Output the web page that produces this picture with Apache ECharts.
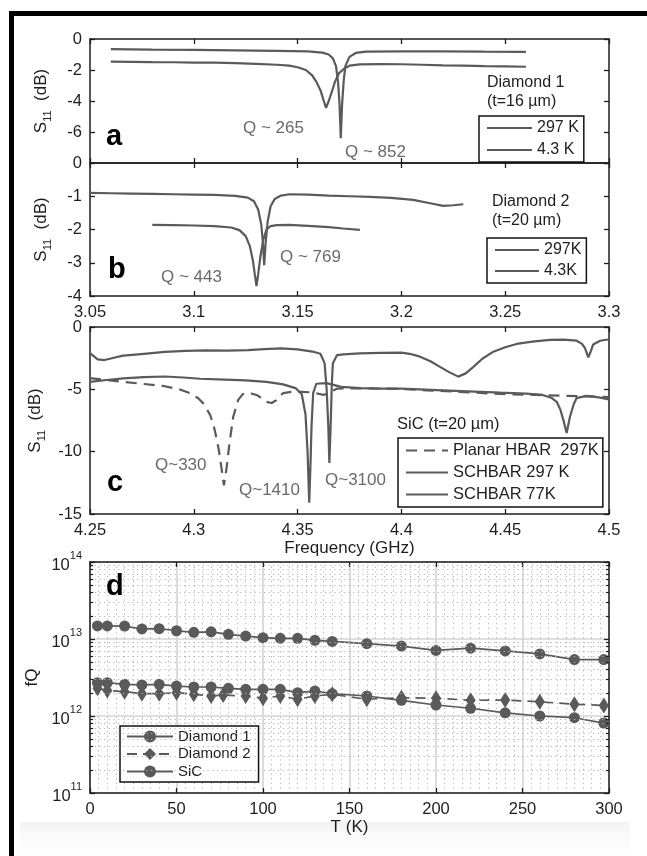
<!DOCTYPE html>
<html><head><meta charset="utf-8">
<script src="https://cdn.jsdelivr.net/npm/echarts@6/dist/echarts.min.js"></script>
<style>html,body{margin:0;padding:0;background:#fff}#c{width:647px;height:856px}</style>
</head><body><div id="c"></div>
<script>
// ---------- panel a : Diamond 1 (t=16 um) ----------
const a297K = [[3.060,-1.46],[3.070,-1.47],[3.080,-1.49],[3.090,-1.50],[3.100,-1.52],[3.110,-1.53],[3.120,-1.56],[3.130,-1.60],[3.140,-1.66],[3.146,-1.72],[3.150,-1.82],[3.154,-2.00],[3.157,-2.35],[3.159,-2.75],[3.161,-3.30],[3.1625,-3.95],[3.1637,-4.45],[3.165,-4.00],[3.1665,-3.40],[3.168,-2.75],[3.170,-2.20],[3.1725,-1.90],[3.175,-1.72],[3.180,-1.64],[3.190,-1.62],[3.200,-1.63],[3.210,-1.66],[3.220,-1.70],[3.230,-1.72],[3.240,-1.75],[3.250,-1.77],[3.260,-1.79]];
const a43K = [[3.060,-0.65],[3.080,-0.68],[3.100,-0.70],[3.120,-0.73],[3.140,-0.76],[3.155,-0.80],[3.162,-0.88],[3.165,-1.00],[3.167,-1.25],[3.1685,-1.75],[3.1695,-2.80],[3.1702,-4.20],[3.1708,-6.40],[3.1714,-4.30],[3.1722,-2.70],[3.173,-1.75],[3.175,-1.15],[3.178,-0.90],[3.183,-0.82],[3.200,-0.80],[3.220,-0.80],[3.240,-0.82],[3.260,-0.83]];
// ---------- panel b : Diamond 2 (t=20 um) ----------
const b297K = [[3.080,-1.86],[3.090,-1.87],[3.100,-1.88],[3.110,-1.90],[3.118,-1.94],[3.122,-2.02],[3.125,-2.20],[3.127,-2.50],[3.1285,-2.95],[3.1295,-3.40],[3.1302,-3.70],[3.131,-3.35],[3.132,-2.85],[3.1335,-2.30],[3.135,-2.00],[3.137,-1.90],[3.140,-1.87],[3.146,-1.86],[3.155,-1.89],[3.165,-1.93],[3.172,-1.97],[3.180,-2.01]];
const b43K = [[3.050,-0.90],[3.060,-0.91],[3.070,-0.92],[3.080,-0.93],[3.090,-0.94],[3.100,-0.95],[3.110,-0.96],[3.120,-0.99],[3.126,-1.04],[3.129,-1.15],[3.131,-1.40],[3.1325,-1.85],[3.1333,-2.40],[3.1339,-3.07],[3.1346,-2.40],[3.1356,-1.75],[3.137,-1.30],[3.139,-1.08],[3.142,-0.98],[3.146,-0.94],[3.155,-0.95],[3.165,-0.98],[3.175,-1.00],[3.185,-1.02],[3.195,-1.05],[3.2057,-1.11],[3.2138,-1.21],[3.2202,-1.29],[3.225,-1.27],[3.2298,-1.24]];
// ---------- panel c : SiC (t=20 um) ----------
const cPlanar297K = [[4.250,-4.10],[4.258,-4.25],[4.266,-4.40],[4.276,-4.57],[4.286,-4.75],[4.293,-5.00],[4.298,-5.30],[4.302,-5.70],[4.305,-6.20],[4.308,-7.10],[4.310,-8.20],[4.312,-9.80],[4.3135,-11.5],[4.3145,-12.7],[4.3158,-11.3],[4.3172,-9.3],[4.319,-7.2],[4.3214,-5.85],[4.3235,-5.40],[4.3255,-5.30],[4.328,-5.35],[4.3303,-5.45],[4.333,-5.75],[4.335,-6.00],[4.3375,-6.10],[4.3395,-5.90],[4.3407,-5.60],[4.3431,-5.30],[4.347,-5.20],[4.352,-5.20],[4.3575,-5.25],[4.3624,-5.45],[4.365,-5.30],[4.3688,-4.95],[4.375,-4.92],[4.385,-4.93],[4.400,-4.97],[4.415,-5.10],[4.430,-5.22],[4.4475,-5.37],[4.465,-5.45],[4.480,-5.52],[4.490,-5.57],[4.500,-5.62]];
const cSCHBAR297K = [[4.250,-4.40],[4.258,-4.25],[4.266,-4.12],[4.276,-4.02],[4.286,-3.97],[4.295,-4.05],[4.303,-4.15],[4.315,-4.22],[4.325,-4.28],[4.335,-4.40],[4.343,-4.60],[4.349,-4.90],[4.352,-5.40],[4.3538,-7.0],[4.3548,-10.0],[4.3556,-14.1],[4.3563,-10.5],[4.3567,-8.0],[4.3575,-5.30],[4.359,-4.55],[4.364,-4.50],[4.371,-4.80],[4.380,-4.90],[4.390,-4.95],[4.400,-4.95],[4.420,-5.08],[4.4475,-5.27],[4.460,-5.35],[4.468,-5.45],[4.4725,-5.70],[4.4748,-6.00],[4.4765,-6.60],[4.478,-7.45],[4.4796,-8.50],[4.4812,-7.20],[4.483,-6.20],[4.4844,-5.70],[4.489,-5.53],[4.495,-5.65],[4.500,-5.80]];
const cSCHBAR77K = [[4.250,-2.10],[4.2537,-2.60],[4.257,-2.65],[4.262,-2.45],[4.266,-2.30],[4.276,-2.15],[4.286,-2.00],[4.296,-1.92],[4.306,-1.88],[4.316,-1.90],[4.326,-1.86],[4.334,-1.78],[4.342,-1.72],[4.350,-1.80],[4.354,-1.90],[4.358,-2.00],[4.361,-2.15],[4.363,-2.90],[4.364,-5.0],[4.3648,-8.0],[4.3653,-10.9],[4.3659,-8.0],[4.3665,-4.5],[4.367,-2.90],[4.369,-2.25],[4.372,-2.20],[4.380,-2.12],[4.390,-2.08],[4.400,-2.05],[4.404,-2.15],[4.409,-2.38],[4.414,-2.75],[4.4186,-3.20],[4.423,-3.62],[4.4274,-3.98],[4.431,-3.72],[4.4347,-3.20],[4.439,-2.55],[4.4443,-1.98],[4.450,-1.62],[4.4555,-1.36],[4.463,-1.18],[4.4716,-1.04],[4.478,-1.02],[4.4844,-1.10],[4.487,-1.35],[4.4884,-1.70],[4.4893,-2.10],[4.490,-2.44],[4.491,-2.05],[4.4924,-1.40],[4.4957,-1.10],[4.4995,-1.00]];
// ---------- panel d : fQ vs T ----------
const dTemp = [4.3,10,20,30,40,50,60,70,80,90,100,110,120,130,140,160,180,200,220,240,260,280,297];
const dDiamond1 = [1.48e13,1.48e13,1.47e13,1.35e13,1.36e13,1.28e13,1.22e13,1.24e13,1.15e13,1.09e13,1.04e13,1.02e13,1.02e13,0.96e13,0.93e13,0.87e13,0.81e13,0.71e13,0.76e13,0.70e13,0.64e13,0.54e13,0.54e13];
const dSiC = [2.71e12,2.71e12,2.58e12,2.53e12,2.58e12,2.45e12,2.38e12,2.38e12,2.29e12,2.22e12,2.22e12,2.22e12,2.01e12,2.11e12,1.95e12,1.82e12,1.60e12,1.39e12,1.26e12,1.10e12,1.00e12,0.95e12,0.81e12];
const dDiamond2Temp = [4.3,10,20,30,40,50,60,70,77,90,100,110,120,130,140,160,180,200,220,240,260,280,297];
const dDiamond2 = [2.29e12,2.15e12,2.07e12,1.95e12,1.95e12,2.01e12,1.91e12,1.82e12,1.87e12,1.82e12,1.70e12,1.82e12,1.65e12,1.82e12,1.91e12,1.65e12,1.73e12,1.70e12,1.60e12,1.61e12,1.53e12,1.42e12,1.37e12];
// axis ranges / ticks
const abFreqRange = [3.05, 3.3, 0.05];
const cFreqRange = [4.25, 4.5, 0.05];
const aYRange = [-8, 0, 2];
const bYRange = [-4, 0, 1];
const cYRange = [-15, 0, 5];
const dTRange = [0, 300, 50];
const dFQRange = [1e11, 1e14];
const dMinorMantissa = [2,3,4,5,6,7,8,9];
const dMinorDecades = [1e11,1e12,1e13];

const FONT = '"Liberation Sans", Arial, Helvetica, sans-serif';
const INK = '#1e1e1e';
const GREY = '#5a5a5a';
const QGREY = '#6a6a6a';
const TICK = 16.5;
const DOT = {color:'#b4b4b4', width:1.1, type:[1.2,3.5]};

const grids = [
  {left:90, top:39, width:519, height:124},
  {left:90, top:163, width:519, height:133},
  {left:90, top:327, width:519, height:187},
  {left:90, top:562, width:519, height:231}
];

function axisCommon(showLabel){
  return {
    axisLine:{show:true, onZero:false, lineStyle:{color:INK, width:1.5}},
    axisTick:{show:true, inside:true, length:5, lineStyle:{color:INK, width:1.3}},
    axisLabel:{show:showLabel, color:INK, fontSize:TICK, fontFamily:FONT, margin:8},
    splitLine:{show:false}
  };
}
function xAx(gi, pos, r, showLabel, extra){
  return Object.assign({type:'value', gridIndex:gi, position:pos, min:r[0], max:r[1], interval:r[2]}, axisCommon(showLabel), extra||{});
}
function yAx(gi, pos, r, showLabel, extra){
  return Object.assign({type:'value', gridIndex:gi, position:pos, min:r[0], max:r[1], interval:r[2]}, axisCommon(showLabel), extra||{});
}
const s11Name = {
  name:'S{sub|11}  (dB)', nameLocation:'middle', nameRotate:90, nameGap:37,
  nameTextStyle:{color:INK, fontSize:17, fontFamily:FONT,
    rich:{sub:{fontSize:11, fontFamily:FONT, color:INK, verticalAlign:'bottom', lineHeight:24, padding:[8,0,0,0]}}}
};

const xAxes = [
  xAx(0,'bottom',abFreqRange,false),
  xAx(0,'top',abFreqRange,false),
  xAx(1,'bottom',abFreqRange,true),
  xAx(1,'top',abFreqRange,false),
  xAx(2,'bottom',cFreqRange,true,{name:'Frequency (GHz)', nameLocation:'middle', nameGap:26, nameTextStyle:{color:INK, fontSize:17, fontFamily:FONT}}),
  xAx(2,'top',cFreqRange,false),
  xAx(3,'bottom',dTRange,true,{name:'T (K)', nameLocation:'middle', nameGap:26, nameTextStyle:{color:INK, fontSize:17, fontFamily:FONT},
      splitLine:{show:true, lineStyle:{color:'#d4d4d4', width:1.6}},
      minorTick:{show:false, splitNumber:10},
      minorSplitLine:{show:true, lineStyle:DOT}}),
  xAx(3,'top',dTRange,false)
];

const supFmt = function(v){ const e = Math.round(Math.log10(v)); return '{b|10}{s|' + e + '}'; };
const logAx = function(pos, showLabel){
  const o = Object.assign({type:'log', logBase:10, gridIndex:3, position:pos, min:dFQRange[0], max:dFQRange[1], splitNumber:3}, axisCommon(showLabel));
  o.axisLabel = {show:showLabel, formatter:supFmt, margin:8,
    rich:{b:{fontSize:TICK, fontFamily:FONT, color:INK, lineHeight:24, verticalAlign:'bottom'},
          s:{fontSize:11, fontFamily:FONT, color:INK, lineHeight:24, verticalAlign:'top'}}};
  if(pos==='left'){
    o.splitLine = {show:true, lineStyle:{color:'#d4d4d4', width:1.6}};
    o.name = 'fQ'; o.nameLocation='middle'; o.nameRotate=90; o.nameGap=38;
    o.nameTextStyle = {color:INK, fontSize:17, fontFamily:FONT};
  }
  return o;
};
const yAxes = [
  yAx(0,'left',aYRange,true,Object.assign({axisLabel:{show:true, color:INK, fontSize:TICK, fontFamily:FONT, margin:8, showMinLabel:false}}, s11Name)),
  yAx(0,'right',aYRange,false),
  yAx(1,'left',bYRange,true,s11Name),
  yAx(1,'right',bYRange,false),
  yAx(2,'left',cYRange,true,s11Name),
  yAx(2,'right',cYRange,false),
  logAx('left',true),
  logAx('right',false)
];

function lineS(name, data, xi, yi, extra){
  return Object.assign({type:'line', name:name, data:data, xAxisIndex:xi, yAxisIndex:yi,
    symbol:'none', showSymbol:false, smooth:false, z:3, animation:false,
    lineStyle:{color:GREY, width:2.2}, itemStyle:{color:GREY}}, extra||{});
}

// minor grid / minor ticks on the log axis (decoration)
const minorLines = [], minorTicks = [];
dMinorDecades.forEach(function(dec){ dMinorMantissa.forEach(function(m){
  const v = m*dec;
  minorLines.push({yAxis:v});
  minorTicks.push([{coord:[0,v]},{coord:[1.8,v]}]);
  minorTicks.push([{coord:[298.2,v]},{coord:[300,v]}]);
});});

const series = [
  lineS('297 K', a297K, 0, 0),
  lineS('4.3 K', a43K, 0, 0),
  lineS('297K', b297K, 2, 2),
  lineS('4.3K', b43K, 2, 2),
  lineS('Planar HBAR  297K', cPlanar297K, 4, 4, {lineStyle:{color:GREY, width:2.2, type:[11,7]}}),
  lineS('SCHBAR 297 K', cSCHBAR297K, 4, 4),
  lineS('SCHBAR 77K', cSCHBAR77K, 4, 4),
  {type:'line', name:'minorgrid', data:[], xAxisIndex:6, yAxisIndex:6, z:1, silent:true, animation:false,
    markLine:{silent:true, symbol:'none', animation:false, label:{show:false},
      lineStyle:DOT, data:minorLines}},
  {type:'line', name:'minorticks', data:[], xAxisIndex:6, yAxisIndex:6, z:4, silent:true, animation:false,
    markLine:{silent:true, symbol:'none', animation:false, label:{show:false},
      lineStyle:{color:INK, width:1.2, type:'solid'}, data:minorTicks}},
  lineS('Diamond 1', dTemp.map(function(t,i){return [t,dDiamond1[i]];}), 6, 6,
    {symbol:'circle', showSymbol:true, symbolSize:11, lineStyle:{color:GREY, width:1.7}, itemStyle:{color:GREY}}),
  lineS('Diamond 2', dDiamond2Temp.map(function(t,i){return [t,dDiamond2[i]];}), 6, 6,
    {symbol:'diamond', showSymbol:true, symbolSize:[10,16], lineStyle:{color:GREY, width:1.7, type:[10,6]}, itemStyle:{color:GREY}}),
  lineS('SiC', dTemp.map(function(t,i){return [t,dSiC[i]];}), 6, 6,
    {symbol:'circle', showSymbol:true, symbolSize:11, lineStyle:{color:GREY, width:1.7}, itemStyle:{color:GREY}})
];

function legendBox(names, left, top, itemW, itemH, gap, pad, fs, hideSymbol){
  const o = {data:names, left:left, top:top, orient:'vertical', itemWidth:itemW, itemHeight:itemH, itemGap:gap,
    padding:pad, borderColor:'#111', borderWidth:1.5, backgroundColor:'#fff', selectedMode:false,
    textStyle:{fontSize:fs, color:INK, fontFamily:FONT}};
  if(hideSymbol){ o.itemStyle = {opacity:0}; }
  return o;
}
const legends = [
  legendBox(['297 K','4.3 K'], 479, 116, 45, 14, 6, [4,5,4,7], 16, true),
  legendBox(['297K','4.3K'], 487, 238, 44, 14, 5, [4,5,4,7], 16, true),
  legendBox(['Planar HBAR  297K','SCHBAR 297 K','SCHBAR 77K'], 398, 438, 42, 15, 5, [4,4,4,7], 16.5, true),
  legendBox(['Diamond 1','Diamond 2','SiC'], 120, 726, 46, 15, 2.5, [3,8,3,6], 15, false)
];

function txt(s, x, y, opt){
  return {type:'text', x:x, y:y, z:20, silent:true,
    style:Object.assign({text:s, fill:INK, font:'16px ' + FONT, verticalAlign:'middle', align:'left'}, opt||{})};
}
const QF = '17px ' + FONT;
const LF = 'bold 29px ' + FONT;
const graphics = [
  {type:'rect', z:-5, silent:true, shape:{x:20, y:822, width:610, height:30},
    style:{fill:new echarts.graphic.LinearGradient(0,0,0,1,[{offset:0,color:'rgba(236,236,236,0.7)'},{offset:1,color:'rgba(250,250,250,0.2)'}])}},
  {type:'rect', z:30, silent:true, shape:{x:9, y:11, width:638, height:5}, style:{fill:'#000'}},
  {type:'rect', z:30, silent:true, shape:{x:9, y:11, width:5, height:845}, style:{fill:'#000'}},
  txt('Diamond 1', 487, 83),
  txt('(t=16 \u00b5m)', 487, 102),
  txt('Diamond 2', 492, 202),
  txt('(t=20 \u00b5m)', 492, 221),
  txt('SiC (t=20 \u00b5m)', 397, 424, {font:'16.5px ' + FONT}),
  txt('Q ~ 265', 243, 128, {fill:QGREY, font:QF}),
  txt('Q ~ 852', 345, 152, {fill:QGREY, font:QF}),
  txt('Q ~ 443', 161, 277, {fill:QGREY, font:QF}),
  txt('Q ~ 769', 280, 257, {fill:QGREY, font:QF}),
  txt('Q~330', 155, 465, {fill:QGREY, font:QF}),
  txt('Q~1410', 239, 490, {fill:QGREY, font:QF}),
  txt('Q~3100', 325, 480, {fill:QGREY, font:QF}),
  txt('a', 106, 137, {font:LF, fill:'#000'}),
  txt('b', 108, 270, {font:LF, fill:'#000'}),
  txt('c', 107, 483, {font:LF, fill:'#000'}),
  txt('d', 106, 587, {font:LF, fill:'#000'})
];

const chart = echarts.init(document.getElementById('c'), null, {renderer:'canvas'});
chart.setOption({
  animation:false,
  backgroundColor:'#fff',
  grid:grids,
  xAxis:xAxes,
  yAxis:yAxes,
  legend:legends,
  series:series,
  graphic:{elements:graphics}
});
</script>
</body></html>
